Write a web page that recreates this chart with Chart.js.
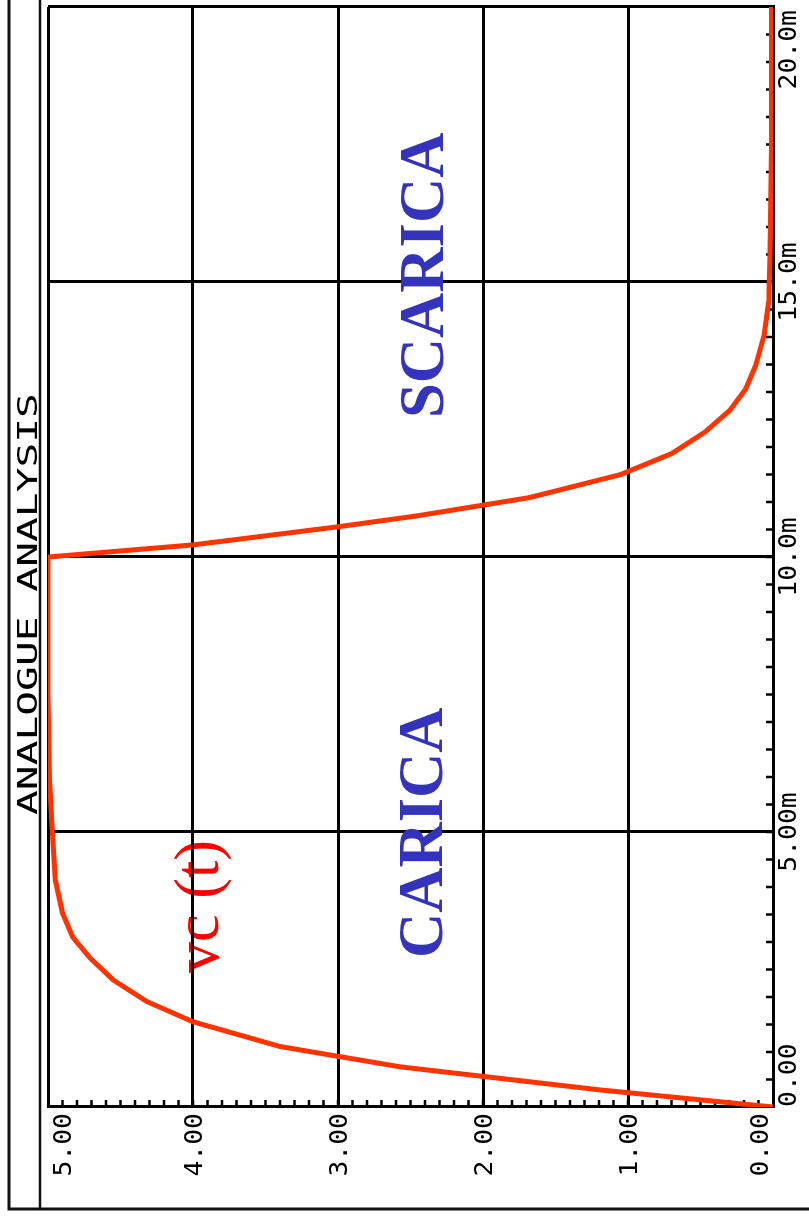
<!DOCTYPE html>
<html>
<head>
<meta charset="utf-8">
<script src="https://cdn.jsdelivr.net/npm/chart.js@4.4.1/dist/chart.umd.min.js"></script>
<style>
  html, body { margin: 0; padding: 0; background: #fff; overflow: hidden; width: 809px; height: 1218px; }
  /* the plot is drawn landscape and turned a quarter turn left, like the printout */
  #wrap { position: absolute; left: 0; top: 0; width: 1218px; height: 809px;
          transform-origin: 0 0; transform: translate(0, 1218px) rotate(-90deg); }
</style>
</head>
<body>
<div id="wrap"><canvas id="myChart" width="1218" height="809"></canvas></div>
<script>
// time (ms) and capacitor voltage vc (V)
const timeMs = [0, 0.31, 0.73, 1.10, 1.55, 1.92, 2.31, 2.71, 3.09, 3.53, 4.13, 5.04, 5.95, 7.5, 10.0,
  10.22, 10.55, 10.75, 11.08, 11.5, 11.88, 12.27, 12.66, 13.05, 13.48, 14.05, 14.65, 15.5, 17.5, 20.0];
const vc = [0, 1.19, 2.57, 3.40, 4.00, 4.32, 4.55, 4.71, 4.83, 4.90, 4.95, 4.97, 4.99, 5.0, 5.0,
  4.0, 3.0, 2.45, 1.68, 1.05, 0.70, 0.47, 0.30, 0.19, 0.12, 0.06, 0.03, 0.02, 0.01, 0.01];

const timeTicks = [0, 5, 10, 15, 20];
const timeLabels = ['0.00', '5.00m', '10.0m', '15.0m', '20.0m'];
const voltTicks = [0, 1, 2, 3, 4, 5];
const voltLabels = ['0.00', '1.00', '2.00', '3.00', '4.00', '5.00'];
const timeMinor = 0.5;
const voltMinor = 0.1;

const points = timeMs.map((t, i) => ({ x: t, y: vc[i] }));

// draw text so its ink spans exactly inkWidth px starting at left
function fitText(c, text, left, base, inkWidth, font, color) {
  c.save();
  c.font = font;
  c.fillStyle = color;
  c.textAlign = 'left';
  c.textBaseline = 'alphabetic';
  const m = c.measureText(text);
  const w = m.actualBoundingBoxLeft + m.actualBoundingBoxRight;
  c.translate(left, base);
  c.scale(inkWidth / w, 1);
  c.fillText(text, m.actualBoundingBoxLeft, 0);
  c.restore();
}

function monoText(c, text, x, base, align) {
  c.save();
  c.font = '24px "DejaVu Sans Mono"';
  c.fillStyle = '#000';
  c.textBaseline = 'alphabetic';
  c.textAlign = align;
  c.translate(x, base);
  c.scale(1.1, 1);
  c.fillText(text, 0, 0);
  c.restore();
}

const frame = {
  id: 'frame',
  beforeDraw(chart) {
    const c = chart.ctx;
    c.save();
    c.strokeStyle = '#111';
    c.lineWidth = 3;
    c.beginPath();
    c.moveTo(9, 809); c.lineTo(9, 9); c.lineTo(1218, 9);
    c.stroke();
    c.lineWidth = 2.5;
    c.beginPath();
    c.moveTo(9, 40); c.lineTo(1218, 40);
    c.stroke();
    c.restore();
    fitText(c, 'ANALOGUE ANALYSIS', 403, 37, 420, '27px "DejaVu Sans Mono"', '#000');
    fitText(c, 'vc (t)', 245, 218, 131, '63px "Liberation Serif"', '#ff0000');
  },
  beforeDatasetsDraw(chart) {
    const { ctx: c, chartArea: a, scales: { x, y } } = chart;
    c.save();
    c.strokeStyle = '#000';
    c.lineWidth = 2.5;
    c.beginPath();
    for (let i = 1; i < 5 / voltMinor; i++) {
      const py = y.getPixelForValue(i * voltMinor);
      c.moveTo(a.left, py); c.lineTo(a.left + 7, py);
    }
    for (let i = 1; i < 20 / timeMinor; i++) {
      const px = x.getPixelForValue(i * timeMinor);
      c.moveTo(px, a.bottom); c.lineTo(px, a.bottom - 7);
    }
    c.stroke();
    c.restore();
  },
  afterDraw(chart) {
    const { ctx: c, chartArea: a, scales: { x, y } } = chart;
    timeTicks.forEach((t, i) => {
      const px = x.getPixelForValue(t);
      let align = 'center';
      if (i === 0) align = 'left';
      if (i === timeTicks.length - 1) align = 'right';
      monoText(c, timeLabels[i], align === 'right' ? px - 3 : px, 796, align);
    });
    voltTicks.forEach((v, i) => {
      let py = y.getPixelForValue(v);
      py = Math.min(Math.max(py, a.top + 14), a.bottom - 14);
      monoText(c, voltLabels[i], 105, py + 9, 'right');
    });
    fitText(c, 'CARICA', 263, 442, 248, 'bold 63px "Liberation Serif"', '#3333bb');
    fitText(c, 'SCARICA', 803, 443, 283, 'bold 63px "Liberation Serif"', '#3333bb');
  }
};

const ctx = document.getElementById('myChart').getContext('2d');
const myChart = new Chart(ctx, {
  type: 'line',
  data: {
    datasets: [
      {
        label: 'vc(t)',
        data: points,
        borderColor: '#ff3300',
        borderWidth: 5,
        pointRadius: 0,
        tension: 0,
        fill: false,
      },
    ],
  },
  options: {
    responsive: false,
    animation: false,
    devicePixelRatio: 1,
    layout: { padding: { left: 111, right: 7, top: 48, bottom: 36 } },
    plugins: {
      legend: { display: false },
      tooltip: { enabled: false },
    },
    scales: {
      x: {
        type: 'linear',
        min: 0,
        max: 20,
        ticks: { display: false, stepSize: 5 },
        grid: { color: '#000', lineWidth: 3, drawTicks: false },
        border: { color: '#000', width: 3 },
        afterFit: (s) => { s.height = 0; },
      },
      y: {
        type: 'linear',
        min: 0,
        max: 5,
        ticks: { display: false, stepSize: 1 },
        grid: { color: '#000', lineWidth: 3, drawTicks: false },
        border: { color: '#000', width: 3 },
        afterFit: (s) => { s.width = 0; },
      },
    },
  },
  plugins: [frame],
});
</script>
</body>
</html>
